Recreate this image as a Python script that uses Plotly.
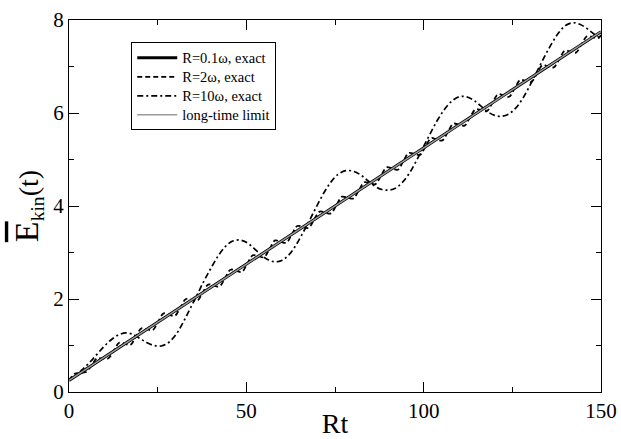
import plotly.graph_objects as go

# ---- data ----
# long-time limit and R=0.1ω (straight line)
limit_x = [0, 50, 100, 150]
limit_y = [0.25, 2.75, 5.25, 7.75]
slow_x = [0, 25, 50, 75, 100, 125, 150]
slow_y = [0.25, 1.50, 2.75, 4.00, 5.25, 6.50, 7.75]

# R=10ω, exact (dash-dot)
r10_x = [0, 2, 4, 6, 8, 10, 12, 14, 16, 18, 20, 22, 24, 26, 28, 30, 32, 34, 36, 38,
         40, 42, 44, 46, 48, 50, 52, 54, 56, 58, 60, 62, 64, 66, 68, 70, 72, 74, 76, 78,
         80, 82, 84, 86, 88, 90, 92, 94, 96, 98, 100, 102, 104, 106, 108, 110, 112, 114,
         116, 118, 120, 122, 124, 126, 128, 130, 132, 134, 136, 138, 140, 142, 144, 146,
         148, 150]
r10_y = [0.25, 0.36, 0.50, 0.65, 0.82, 0.99, 1.13, 1.23, 1.27, 1.24, 1.15, 1.06, 1.00,
         0.99, 1.06, 1.22, 1.47, 1.77, 2.07, 2.38, 2.66, 2.92, 3.12, 3.24, 3.27, 3.22,
         3.10, 2.96, 2.85, 2.80, 2.83, 2.95, 3.16, 3.43, 3.72, 4.02, 4.30, 4.53, 4.69,
         4.76, 4.75, 4.68, 4.56, 4.44, 4.36, 4.34, 4.38, 4.51, 4.71, 4.98, 5.28, 5.58,
         5.86, 6.09, 6.26, 6.35, 6.35, 6.28, 6.16, 6.03, 5.95, 5.93, 5.98, 6.11, 6.32,
         6.60, 6.90, 7.20, 7.48, 7.72, 7.88, 7.94, 7.91, 7.82, 7.70, 7.60]

# R=2ω, exact (dashed)
r2_x = [0, 1.57, 3.14, 4.71, 6.28, 7.85, 9.42, 11.00, 12.57, 14.14, 15.71, 17.28, 18.85,
        20.42, 21.99, 23.56, 25.13, 26.70, 28.27, 29.85, 31.42, 32.99, 34.56, 36.13,
        37.70, 39.27, 40.84, 42.41, 43.98, 45.55, 47.12, 48.69, 50.27, 51.84, 53.41,
        54.98, 56.55, 58.12, 59.69, 61.26, 62.83, 64.40, 65.97, 67.54, 69.12, 70.69,
        72.26, 73.83, 75.40, 76.97, 78.54, 80.11, 81.68, 83.25, 84.82, 86.39, 87.96,
        89.54, 91.11, 92.68, 94.25, 95.82, 97.39, 98.96, 100.53, 102.10, 103.67, 105.24,
        106.81, 108.38, 109.96, 111.53, 113.10, 114.67, 116.24, 117.81, 119.38, 120.95,
        122.52, 124.09, 125.66, 127.23, 128.81, 130.38, 131.95, 133.52, 135.09, 136.66,
        138.23, 139.80, 141.37, 142.94, 144.51, 146.08, 147.65, 149.23, 150]
r2_y = [0.25, 0.39, 0.41, 0.43, 0.56, 0.72, 0.72, 0.72, 0.88, 1.06, 1.04, 1.01, 1.19,
        1.37, 1.35, 1.33, 1.51, 1.69, 1.66, 1.64, 1.82, 2.00, 1.98, 1.96, 2.14, 2.31,
        2.29, 2.27, 2.45, 2.63, 2.61, 2.58, 2.76, 2.94, 2.92, 2.90, 3.08, 3.26, 3.23,
        3.21, 3.39, 3.57, 3.55, 3.53, 3.71, 3.88, 3.86, 3.84, 4.02, 4.20, 4.18, 4.16,
        4.33, 4.51, 4.49, 4.47, 4.65, 4.83, 4.81, 4.78, 4.96, 5.14, 5.12, 5.10, 5.28,
        5.46, 5.43, 5.41, 5.59, 5.77, 5.75, 5.73, 5.91, 6.08, 6.06, 6.04, 6.22, 6.40,
        6.38, 6.35, 6.53, 6.71, 6.69, 6.67, 6.85, 7.03, 7.00, 6.98, 7.16, 7.34, 7.32,
        7.30, 7.48, 7.65, 7.63, 7.61, 7.68]

x_ticks = [0, 50, 100, 150]
y_ticks = [0, 2, 4, 6, 8]
series_names = ["R=0.1ω, exact", "R=2ω, exact", "R=10ω, exact", "long-time limit"]

SERIF = "Liberation Serif"


def leg(name):
    return "<span style='font-size:14.5px'>" + name + "</span>"


fig = go.Figure()
fig.add_trace(go.Scatter(x=slow_x, y=slow_y, mode="lines", name=leg(series_names[0]),
                         line=dict(color="black", width=3)))
fig.add_trace(go.Scatter(x=r2_x, y=r2_y, mode="lines", name=leg(series_names[1]),
                         line=dict(color="black", width=1.8, dash="5px,3px", shape="spline")))
fig.add_trace(go.Scatter(x=r10_x, y=r10_y, mode="lines", name=leg(series_names[2]),
                         line=dict(color="black", width=1.7, dash="6px,3px,2px,3px", shape="spline")))
fig.add_trace(go.Scatter(x=limit_x, y=limit_y, mode="lines", name=leg(series_names[3]),
                         line=dict(color="#9a9a9a", width=1.5)))

axis_common = dict(
    showline=True, linecolor="black", linewidth=1.3, mirror="ticks",
    ticks="inside", ticklen=10, tickwidth=1.3, tickcolor="black",
    showgrid=False, zeroline=False, automargin=False,
    tickfont=dict(family=SERIF, size=21, color="black"),
)

fig.update_layout(
    width=621, height=439,
    margin=dict(l=69, r=20, t=20, b=47),
    paper_bgcolor="white", plot_bgcolor="white",
    showlegend=True,
    legend=dict(x=0.117, y=0.94, xanchor="left", yanchor="top",
                bgcolor="white", bordercolor="black", borderwidth=1,
                font=dict(family=SERIF, size=12, color="black"),
                tracegroupgap=0, itemwidth=40),
    xaxis=dict(range=[0, 150], tickvals=x_ticks,
               minor=dict(dtick=25, ticks="inside", ticklen=5, tickwidth=1.3, tickcolor="black"),
               title=dict(text="Rt", font=dict(family=SERIF, size=28, color="black"), standoff=0),
               **axis_common),
    yaxis=dict(range=[0, 8], tickvals=y_ticks,
               minor=dict(dtick=1, ticks="inside", ticklen=5, tickwidth=1.3, tickcolor="black"),
               title=dict(text="<span style='text-decoration:overline;font-size:34px'>E</span><sub>kin</sub>(t)",
                          font=dict(family=SERIF, size=28, color="black"), standoff=6),
               **axis_common),
)

fig.write_html("out.html")
